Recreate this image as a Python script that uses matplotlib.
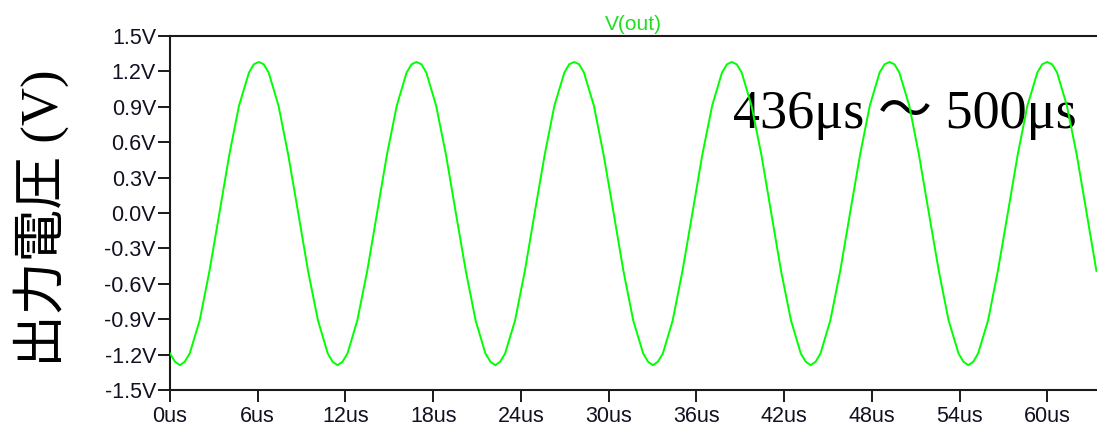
"""Output voltage V(out), 436us - 500us window (LTspice style trace)"""

import matplotlib
matplotlib.use("Agg")
import matplotlib.pyplot as plt

# Trace samples (time in us, voltage in V)
time_us = [0.00, 0.34,
           0.68, 1.01, 1.35, 2.03, 2.70, 3.38, 4.05, 4.72, 5.40, 5.73,
           6.07, 6.41, 6.75, 7.42, 8.09, 8.77, 9.44, 10.12, 10.79, 11.12,
           11.46, 11.80, 12.14, 12.81, 13.49, 14.16, 14.83, 15.51, 16.18, 16.52,
           16.86, 17.20, 17.53, 18.20, 18.88, 19.55, 20.23, 20.90, 21.57, 21.91,
           22.25, 22.58, 22.92, 23.60, 24.27, 24.94, 25.62, 26.29, 26.97, 27.30,
           27.64, 27.98, 28.31, 28.99, 29.66, 30.34, 31.01, 31.68, 32.36, 32.69,
           33.03, 33.37, 33.71, 34.38, 35.05, 35.73, 36.40, 37.08, 37.75, 38.09,
           38.42, 38.76, 39.10, 39.77, 40.45, 41.12, 41.79, 42.47, 43.14, 43.48,
           43.82, 44.16, 44.49, 45.16, 45.84, 46.51, 47.19, 47.86, 48.53, 48.87,
           49.21, 49.55, 49.88, 50.56, 51.23, 51.90, 52.58, 53.25, 53.93, 54.26,
           54.60, 54.94, 55.27, 55.95, 56.62, 57.30, 57.97, 58.64, 59.32, 59.65,
           59.99, 60.33, 60.67, 61.34, 62.02, 62.69, 63.36]

v_out = [-1.19, -1.26,
         -1.29, -1.26, -1.19, -0.91, -0.49, 0.00, 0.49, 0.91, 1.19, 1.26,
         1.28, 1.26, 1.19, 0.91, 0.49, 0.00, -0.49, -0.91, -1.19, -1.26,
         -1.29, -1.26, -1.19, -0.91, -0.49, 0.00, 0.49, 0.91, 1.19, 1.26,
         1.28, 1.26, 1.19, 0.91, 0.49, 0.00, -0.49, -0.91, -1.19, -1.26,
         -1.29, -1.26, -1.19, -0.91, -0.49, 0.00, 0.49, 0.91, 1.19, 1.26,
         1.28, 1.26, 1.19, 0.91, 0.49, 0.00, -0.49, -0.91, -1.19, -1.26,
         -1.29, -1.26, -1.19, -0.91, -0.49, 0.00, 0.49, 0.91, 1.19, 1.26,
         1.28, 1.26, 1.19, 0.91, 0.49, 0.00, -0.49, -0.91, -1.19, -1.26,
         -1.29, -1.26, -1.19, -0.91, -0.49, 0.00, 0.49, 0.91, 1.19, 1.26,
         1.28, 1.26, 1.19, 0.91, 0.49, 0.00, -0.49, -0.91, -1.19, -1.26,
         -1.29, -1.26, -1.19, -0.91, -0.49, 0.00, 0.49, 0.91, 1.19, 1.26,
         1.28, 1.26, 1.19, 0.91, 0.49, 0.00, -0.49]

# Axis ticks
y_ticks = [-1.5, -1.2, -0.9, -0.6, -0.3, 0.0, 0.3, 0.6, 0.9, 1.2, 1.5]
x_ticks = [0, 6, 12, 18, 24, 30, 36, 42, 48, 54, 60]

TRACE = "#00ff00"
AXCOL = "#1a1a1a"

fig = plt.figure(figsize=(10.97, 4.30), dpi=100)
ax = fig.add_axes([170/1097, 1 - 390/430, 1 - 170/1097, (390 - 36)/430])

ax.plot(time_us, v_out, color=TRACE, lw=1.4, zorder=3)

ax.set_xlim(0, 63.4)
ax.set_ylim(-1.5, 1.5)
ax.set_yticks(y_ticks)
ax.set_yticklabels([f"{v:.1f}V" for v in y_ticks])
ax.set_xticks(x_ticks)
ax.set_xticklabels([f"{v}us" for v in x_ticks])

for lbl in ax.get_xticklabels() + ax.get_yticklabels():
    lbl.set_family(["Liberation Sans", "DejaVu Sans"])
    lbl.set_fontsize(15.5)
    lbl.set_color("#111122")

ax.tick_params(direction="out", length=8.5, width=1.4, color=AXCOL, pad=1.5)
ax.tick_params(axis="x", pad=3)

for side in ["left", "top", "bottom"]:
    ax.spines[side].set_color(AXCOL)
    ax.spines[side].set_linewidth(1.5)
ax.spines["right"].set_visible(False)

ax.set_title("V(out)", color="#22dd22", fontsize=15,
             family=["Liberation Sans", "DejaVu Sans"], pad=4)

# Big axis label: serif "(V)" with gothic kanji fallback
fig.text(41/1097, 1 - 218/430, "出力電圧 (V)", rotation=90,
         ha="center", va="center", fontsize=38, color="black",
         family=["Liberation Serif", "Noto Sans CJK JP"])

# Time window note
ax.text(733/1097, 1 - 128/430, "436μs ～ 500μs", transform=fig.transFigure,
        ha="left", va="baseline", fontsize=39, color="black", zorder=2,
        family=["Liberation Serif", "Noto Sans CJK JP"])

fig.savefig("out.png", dpi=100)
